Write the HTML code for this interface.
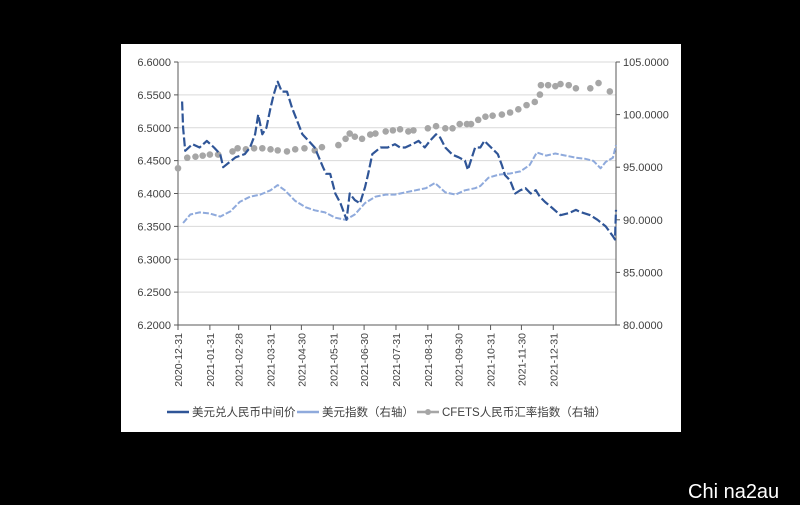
<!DOCTYPE html>
<html><head><meta charset="utf-8"><style>
html,body{margin:0;padding:0;background:#000;width:800px;height:505px;overflow:hidden}
svg{display:block}
text{font-family:"Liberation Sans","Noto Sans CJK SC",sans-serif}
</style></head><body>
<svg id="chart" width="800" height="505">
<rect x="121" y="44" width="560" height="388" fill="#fff"/>
<g id="grid"></g><g id="axes"></g><g id="series"></g><g id="legend"></g>
<text x="688" y="498" fill="#fff" font-size="20">Chi na2au</text>
</svg>
<script>
const leftTicks=[6.2,6.25,6.3,6.35,6.4,6.45,6.5,6.55,6.6];
const rightTicks=[80,85,90,95,100,105];
const xTickLabels=["2020-12-31","2021-01-31","2021-02-28","2021-03-31","2021-04-30","2021-05-31","2021-06-30","2021-07-31","2021-08-31","2021-09-30","2021-10-31","2021-11-30","2021-12-31"];
const xTickDays=[0,31,59,90,120,151,181,212,243,273,304,334,365];
const cnyDays=[4,5,7,14,21,28,35,41,44,56,65,70,75,78,82,86,90,93,97,101,106,111,116,121,127,133,141,144,148,153,158,164,167,172,177,182,185,189,197,204,211,216,221,228,234,240,245,251,255,260,267,273,279,282,289,294,298,311,315,318,323,328,333,338,343,348,352,357,364,372,380,387,391,401,408,416,423,425,426];
const cnyVals=[6.54,6.50,6.465,6.475,6.47,6.48,6.47,6.46,6.44,6.455,6.46,6.47,6.49,6.52,6.49,6.50,6.53,6.55,6.57,6.555,6.555,6.53,6.51,6.49,6.48,6.47,6.44,6.43,6.43,6.40,6.385,6.36,6.40,6.39,6.385,6.41,6.43,6.46,6.47,6.47,6.475,6.47,6.47,6.475,6.48,6.47,6.48,6.49,6.485,6.47,6.459,6.455,6.45,6.436,6.47,6.47,6.48,6.46,6.443,6.428,6.42,6.40,6.405,6.408,6.40,6.405,6.395,6.387,6.378,6.367,6.37,6.375,6.372,6.367,6.36,6.35,6.335,6.33,6.375];
const usdDays=[5,12,21,31,41,51,60,70,80,90,97,104,114,124,133,143,153,163,172,182,192,202,211,221,231,241,250,260,270,279,289,294,302,312,323,333,342,349,358,367,377,387,396,404,411,416,423,426];
const usdVals=[89.7,90.5,90.7,90.6,90.3,90.8,91.7,92.2,92.4,92.8,93.3,92.8,91.8,91.2,90.9,90.7,90.2,90.0,90.5,91.6,92.2,92.4,92.4,92.6,92.8,93.0,93.5,92.6,92.4,92.8,93.0,93.2,94.0,94.3,94.4,94.6,95.2,96.4,96.1,96.3,96.1,95.9,95.8,95.6,94.9,95.5,95.9,97.1];
const cfetsDays=[0,9,17,24,31,39,53,58,66,74,82,90,97,106,114,123,133,140,156,163,167,172,179,187,192,202,209,216,224,229,243,251,260,267,274,281,285,292,299,306,315,323,331,339,347,352,353,360,367,372,380,387,401,409,420];
const cfetsVals=[94.9,95.9,96.0,96.1,96.2,96.2,96.5,96.8,96.7,96.8,96.8,96.7,96.6,96.5,96.7,96.8,96.6,96.9,97.1,97.7,98.2,97.9,97.7,98.1,98.2,98.4,98.5,98.6,98.4,98.5,98.7,98.9,98.7,98.7,99.1,99.1,99.1,99.5,99.8,99.9,100.0,100.2,100.5,100.9,101.2,101.9,102.8,102.8,102.7,102.9,102.8,102.5,102.5,103.0,102.2];
const cfetsVals2=cfetsVals;
const NS="http://www.w3.org/2000/svg";
const L=178,R=616,T=62,B=325,DAYS=426;
const xs=d=>L+d*(R-L)/DAYS;
const yl=v=>B-(v-6.2)/0.4*(B-T);
const yr=v=>B-(v-80)/25*(B-T);
function mk(tag,attrs,parent){const e=document.createElementNS(NS,tag);for(const k in attrs)e.setAttribute(k,attrs[k]);parent.appendChild(e);return e;}
const grid=document.getElementById('grid'),axes=document.getElementById('axes'),series=document.getElementById('series'),legend=document.getElementById('legend');
leftTicks.forEach(v=>{
  const y=yl(v);
  if(v>6.2){const g=mk('line',{x1:L,x2:R,y1:y,y2:y,stroke:'#d9d9d9','stroke-width':1},grid);
  
  }
  const t=mk('line',{x1:L-4,x2:L,y1:y,y2:y,stroke:'#595959'},axes);
  
  
  const tx=mk('text',{x:L-7,y:y+4,'text-anchor':'end','font-size':11,fill:'#404040'},axes);tx.textContent=v.toFixed(4);
  
  
});
rightTicks.forEach(v=>{
  const y=yr(v);
  const t=mk('line',{x1:R,x2:R+4,y1:y,y2:y,stroke:'#595959'},axes);
  
  
  const tx=mk('text',{x:R+7,y:y+4,'font-size':11,fill:'#404040'},axes);tx.textContent=v.toFixed(4);
  
  
});
let a=mk('line',{x1:L,x2:L,y1:T,y2:B,stroke:'#595959'},axes);


a=mk('line',{x1:R,x2:R,y1:T,y2:B,stroke:'#595959'},axes);


a=mk('line',{x1:L,x2:R,y1:B,y2:B,stroke:'#595959'},axes);


xTickDays.forEach((d,i)=>{
  const x=xs(d);
  const t=mk('line',{x1:x,x2:x,y1:B,y2:B+5,stroke:'#595959'},axes);
  
  
  const tx=mk('text',{x:0,y:0,'text-anchor':'end','font-size':10.5,fill:'#404040',transform:`translate(${x+4},${B+8}) rotate(-90)`},axes);
  tx.textContent=xTickLabels[i];
  
  
});
function line(days,vals,yf,color,w,dash,name){
  const pts=days.map((d,i)=>xs(d).toFixed(1)+','+yf(vals[i]).toFixed(1)).join(' ');
  const p=mk('polyline',{points:pts,fill:'none',stroke:color,'stroke-width':w,'stroke-dasharray':dash,'stroke-linejoin':'round'},series);
  
  
}
line(usdDays,usdVals,yr,'#8faadc',2,'6 2','usd-index-line');
cfetsDays.forEach((d,i)=>{
  const c=mk('circle',{cx:xs(d),cy:yr(cfetsVals[i]),r:3.3,fill:'#a6a6a6'},series);
  
  
});
line(cnyDays,cnyVals,yl,'#2f5597',2.2,'9 3','usd-cny-line');
function leg(x,color,label,dot,name){
  const g=mk('g',{},legend);
  
  
  mk('line',{x1:x,x2:x+22,y1:412,y2:412,stroke:color,'stroke-width':2.5},g);
  if(dot)mk('circle',{cx:x+11,cy:412,r:3,fill:color},g);
  const t=mk('text',{x:x+25,y:416,'font-size':11.5,fill:'#404040'},g);t.textContent=label;
}
leg(167,'#2f5597','美元兑人民币中间价',false,'legend-usd-cny');
leg(297,'#8faadc','美元指数（右轴）',false,'legend-usd-index');
leg(417,'#a6a6a6','CFETS人民币汇率指数（右轴）',true,'legend-cfets');
</script>
</body></html>
